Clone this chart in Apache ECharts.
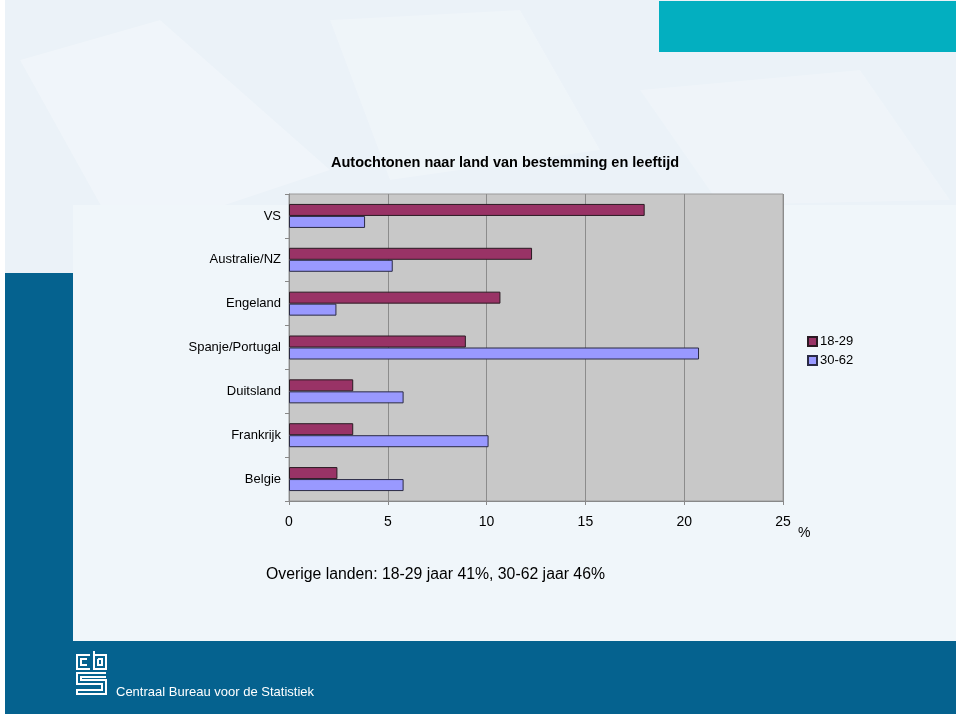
<!DOCTYPE html>
<html>
<head>
<meta charset="utf-8">
<script src="https://cdn.jsdelivr.net/npm/echarts@6/dist/echarts.min.js"></script>
<style>
html,body{margin:0;padding:0;background:#ffffff;}
#chart{width:960px;height:716px;}
</style>
</head>
<body>
<div id="chart"></div>
<script>
const categories = ["VS", "Australie/NZ", "Engeland", "Spanje/Portugal", "Duitsland", "Frankrijk", "Belgie"];
const age18_29 = [18.0, 12.3, 10.7, 8.95, 3.25, 3.25, 2.45];
const age30_62 = [3.85, 5.25, 2.4, 20.75, 5.8, 10.1, 5.8];
const seriesNames = ["18-29", "30-62"];
const xTicks = [0, 5, 10, 15, 20, 25];
const titleText = "Autochtonen naar land van bestemming en leeftijd";
const noteText = "Overige landen: 18-29 jaar 41%, 30-62 jaar 46%";
const unitText = "%";
const footerText = "Centraal Bureau voor de Statistiek";

const chart = echarts.init(document.getElementById('chart'), null, {renderer: 'canvas'});

const font = '"Liberation Sans", Arial, sans-serif';

const bgGraphics = [
  {type:'rect', shape:{x:0,y:0,width:960,height:716}, style:{fill:'#ffffff'}, z:-20},
  {type:'rect', shape:{x:5,y:0,width:951,height:714}, style:{fill:'#ebf2f8'}, z:-19},
  // faint building texture
  {type:'polygon', shape:{points:[[20,60],[160,20],[330,170],[120,240]]}, style:{fill:'rgba(255,255,255,0.25)'}, z:-19},
  {type:'polygon', shape:{points:[[330,20],[520,10],[600,150],[390,180]]}, style:{fill:'rgba(255,255,255,0.22)'}, z:-19},
  {type:'polygon', shape:{points:[[640,90],[860,70],[950,200],[720,205]]}, style:{fill:'rgba(255,255,255,0.2)'}, z:-19},
  {type:'rect', shape:{x:73,y:205,width:883,height:436}, style:{fill:'#f0f6fa'}, z:-18},
  {type:'rect', shape:{x:659,y:1,width:297,height:51}, style:{fill:'#03afc0'}, z:-17},
  {type:'rect', shape:{x:5,y:273,width:68,height:441}, style:{fill:'#05628f'}, z:-17},
  {type:'rect', shape:{x:5,y:641,width:951,height:73}, style:{fill:'#05628f'}, z:-17},
  // cbs logo
  {type:'polyline', shape:{points:[[90,655],[77,655],[77,669],[90,669]]}, style:{stroke:'#ffffff',lineWidth:2,fill:null}, z:-16},
  {type:'polyline', shape:{points:[[87,659],[81,659],[81,665],[87,665]]}, style:{stroke:'#ffffff',lineWidth:2,fill:null}, z:-16},
  {type:'polyline', shape:{points:[[94,651],[94,669],[106,669],[106,655],[94,655]]}, style:{stroke:'#ffffff',lineWidth:2,fill:null}, z:-16},
  {type:'polyline', shape:{points:[[98,659],[98,665],[102,665],[102,659],[98,659]]}, style:{stroke:'#ffffff',lineWidth:2,fill:null}, z:-16},
  {type:'polyline', shape:{points:[[106,673],[77,673],[77,684],[102,684],[102,690],[77,690],[77,694],[106,694],[106,680],[81,680],[81,677],[106,677]]}, style:{stroke:'#ffffff',lineWidth:2,fill:null}, z:-16},
  {type:'text', left:116, top:686, style:{text:footerText, fill:'#ffffff', font:'13px ' + font}, z:5},
  {type:'text', left:331, top:155, style:{text:titleText, fill:'#000000', font:'bold 14.5px ' + font}, z:5},
  {type:'text', left:798, top:526, style:{text:unitText, fill:'#000000', font:'14px ' + font}, z:5},
  {type:'text', left:266, top:567, style:{text:noteText, fill:'#000000', font:'15.8px ' + font}, z:5}
];

chart.setOption({
  animation:false,
  backgroundColor:'transparent',
  graphic: bgGraphics,
  legend:{
    orient:'vertical', left:802, top:330,
    itemWidth:9, itemHeight:9, itemGap:6,
    icon:'rect',
    textStyle:{fontFamily:font, fontSize:13, color:'#000', padding:[0,0,0,-2]},
    data:seriesNames
  },
  grid:{
    left:289, right:177, top:194, bottom:215,
    show:true, backgroundColor:'#c8c8c8', borderColor:'#9a9a9a', borderWidth:1,
    containLabel:false
  },
  xAxis:{
    type:'value', min:0, max:25, interval:5,
    axisLine:{show:true, onZero:false, lineStyle:{color:'#888'}},
    axisTick:{show:true, length:4, lineStyle:{color:'#888'}},
    splitLine:{show:true, lineStyle:{color:'#8c8c8c', width:1}},
    axisLabel:{fontFamily:font, fontSize:14, color:'#000', margin:14,
      formatter:function(v){ return xTicks.indexOf(v) >= 0 ? String(v) : ''; }}
  },
  yAxis:{
    type:'category', data:categories, inverse:true,
    axisLine:{show:true, lineStyle:{color:'#888'}},
    axisTick:{show:true, length:4, lineStyle:{color:'#888'}},
    axisLabel:{fontFamily:font, fontSize:13, color:'#000', margin:8}
  },
  series:[
    {name:seriesNames[0], type:'bar', data:age18_29, barWidth:12, barGap:'0%',
     itemStyle:{color:'#993366', borderColor:'#2a1a22', borderWidth:1}},
    {name:seriesNames[1], type:'bar', data:age30_62, barWidth:12, barGap:'0%',
     itemStyle:{color:'#9999ff', borderColor:'#2a2a44', borderWidth:1}}
  ]
});
</script>
</body>
</html>
